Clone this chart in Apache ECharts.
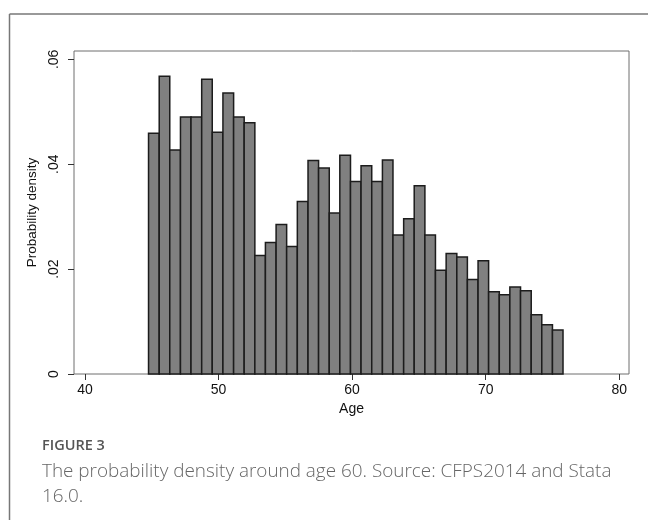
<!DOCTYPE html>
<html>
<head>
<meta charset="utf-8">
<script src="https://cdn.jsdelivr.net/npm/echarts@6/dist/echarts.min.js"></script>
<style>
  html, body { margin: 0; padding: 0; background: #fff; }
  #main { width: 648px; height: 520px; }
</style>
</head>
<body>
<div id="main"></div>
<script>
// histogram bins (lower edges, in years) and their densities
var binLeft = [44.76, 45.56, 46.35, 47.15, 47.94, 48.74, 49.53, 50.33, 51.13, 51.92,
               52.72, 53.51, 54.31, 55.10, 55.90, 56.70, 57.49, 58.29, 59.08, 59.88,
               60.67, 61.47, 62.27, 63.06, 63.86, 64.65, 65.45, 66.24, 67.04, 67.84,
               68.63, 69.43, 70.22, 71.02, 71.81, 72.61, 73.41, 74.20, 75.00];
var binEnd = 75.79;
var density = [0.0459, 0.0568, 0.0427, 0.0490, 0.0490, 0.0562, 0.0461, 0.0536, 0.0490, 0.0479,
               0.0226, 0.0251, 0.0285, 0.0243, 0.0329, 0.0407, 0.0393, 0.0307, 0.0417, 0.0367,
               0.0397, 0.0367, 0.0408, 0.0265, 0.0296, 0.0359, 0.0265, 0.0198, 0.0230, 0.0223,
               0.0180, 0.0216, 0.0157, 0.0151, 0.0166, 0.0159, 0.0113, 0.0094, 0.0084];
var xTicks = [40, 50, 60, 70, 80];
var yTicks = [0, 0.02, 0.04, 0.06];

var bins = [];
for (var i = 0; i < binLeft.length; i++) {
    var right = i + 1 < binLeft.length ? binLeft[i + 1] : binEnd;
    bins.push([binLeft[i], right, density[i]]);
}

var axisFont = 'Liberation Sans, Arial, sans-serif';

var option = {
    animation: false,
    grid: {
        left: 74, right: 19, top: 51, bottom: 146,
        show: true, borderColor: '#6e6e6e', borderWidth: 1
    },
    xAxis: {
        type: 'value',
        min: 39.18, max: 80.73,
        name: 'Age',
        nameLocation: 'middle',
        nameGap: 22,
        nameTextStyle: { fontFamily: axisFont, fontSize: 14, color: '#111' },
        axisLine: { show: false },
        splitLine: { show: false },
        axisTick: { show: true, length: 6, customValues: xTicks, lineStyle: { color: '#333' } },
        axisLabel: { customValues: xTicks, margin: 9, fontFamily: axisFont, fontSize: 14, color: '#111' }
    },
    yAxis: {
        type: 'value',
        min: 0, max: 0.0616,
        name: 'Probability density',
        nameLocation: 'middle',
        nameRotate: 90,
        nameGap: 26,
        nameTextStyle: { fontFamily: axisFont, fontSize: 13.5, color: '#111' },
        axisLine: { show: false },
        splitLine: { show: false },
        axisTick: { show: true, length: 6, customValues: yTicks, lineStyle: { color: '#333' } },
        axisLabel: {
            customValues: yTicks,
            rotate: 90,
            margin: 13,
            fontFamily: axisFont, fontSize: 14, color: '#111',
            formatter: function (v) {
                if (v === 0) return '0';
                return v.toFixed(2).replace(/^0/, '');
            }
        }
    },
    series: [{
        type: 'custom',
        data: bins,
        encode: { x: [0, 1], y: 2 },
        renderItem: function (params, api) {
            var p0 = api.coord([api.value(0), api.value(2)]);
            var p1 = api.coord([api.value(1), 0]);
            return {
                type: 'rect',
                shape: { x: p0[0], y: p0[1], width: p1[0] - p0[0], height: p1[1] - p0[1] },
                style: { fill: '#808080', stroke: '#1c1c1c', lineWidth: 1.5 }
            };
        }
    }],
    graphic: [
        { type: 'line', shape: { x1: 9.5, y1: 14, x2: 648, y2: 14 }, style: { stroke: '#777', lineWidth: 1.5 } },
        { type: 'line', shape: { x1: 9.5, y1: 14, x2: 9.5, y2: 520 }, style: { stroke: '#777', lineWidth: 1.5 } },
        { type: 'text', left: 42, top: 438,
          style: { text: 'FIGURE 3', fontFamily: 'Open Sans', fontSize: 14.5, fontWeight: 600, fill: '#555' } },
        { type: 'text', left: 42, top: 459,
          style: { text: 'The probability density around age 60. Source: CFPS2014 and Stata\n16.0.',
                   fontFamily: 'Open Sans', fontSize: 18.9, fontWeight: 300, lineHeight: 25, fill: '#666' } }
    ]
};

var myChart = echarts.init(document.getElementById('main'));
myChart.setOption(option);
</script>
</body>
</html>
